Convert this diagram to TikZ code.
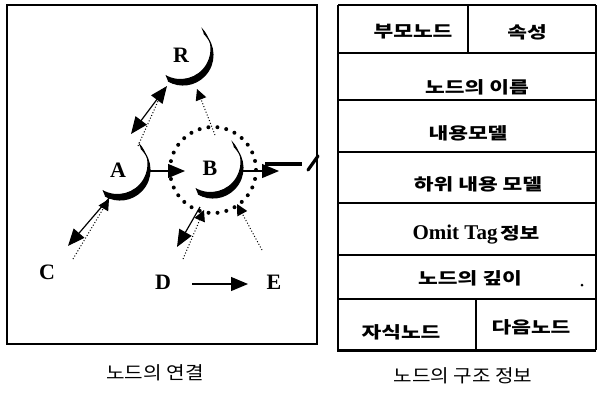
\documentclass[tikz,border=0pt]{standalone}
\usepackage{fontspec}
\usepackage{graphicx}
\setmainfont{Liberation Serif}
\newfontfamily\kr{Noto Sans CJK KR}
\newcommand\kcell[1]{\scalebox{1.3}[1]{\kr\fontsize{16.5}{17}\selectfont\bfseries #1}}
\newcommand\kcap[1]{\scalebox{1.12}[1]{\kr\fontsize{18}{18}\selectfont #1}}
\usetikzlibrary{arrows.meta}
\begin{document}
\begin{tikzpicture}[x=1pt,y=-1pt,
  lbl/.style={font=\fontsize{22}{22}\selectfont\bfseries, inner sep=0pt},
  cell/.style={inner sep=0pt},
  captxt/.style={inner sep=0pt},
  big/.style={-{Triangle[length=17pt,width=14pt]}, line width=1.2pt},
  bigboth/.style={{Triangle[length=17pt,width=14pt]}-{Triangle[length=17pt,width=14pt]}, line width=1.2pt},
  dotline/.style={dotted, line width=1pt},
  dottip/.style={dotted, line width=1pt, -{Triangle[length=11pt,width=11pt]}},
  grid/.style={line width=2.1pt},
  crescent/.pic={
    \fill (-46:30) arc[start angle=-46,end angle=120,radius=30]
      -- (-17.5,19.98) arc[start angle=120,end angle=-46,radius=30] -- cycle;
    \draw[line width=1.1pt] (-46:30) arc[start angle=-46,end angle=120,radius=30];
  }]
\useasboundingbox (0,0) rectangle (597,392);
\fill[white] (0,0) rectangle (597,392);

% ---------- left panel ----------
\draw[line width=2pt] (7,5) rectangle (317,344);

\pic at (183,55) {crescent};
\pic at (120,170) {crescent};
\pic at (213,168) {crescent};

\node[lbl] (R) at (181,55) {R};
\node[lbl] (A) at (118,170) {A};
\node[lbl] (B) at (210,168) {B};
\node[lbl] (C) at (47,272) {C};
\node[lbl] (D) at (163,282) {D};
\node[lbl] (E) at (274,282) {E};

% dotted circle around B
\draw[line width=4pt, line cap=round, dash pattern=on 0pt off 9pt] (213,170) circle[radius=43];

% connection points
\coordinate (Rsw) at (167,86);
\coordinate (Rs) at (197,89);
\coordinate (Rd) at (163,90);
\coordinate (Ane) at (131,134);
\coordinate (Ad) at (138,146);
\coordinate (Ae) at (150,171);
\coordinate (Asw) at (110,197);
\coordinate (Asw2) at (109,199);
\coordinate (Cn) at (68,246);
\coordinate (Cd) at (73,259);
\coordinate (Bw) at (185,171);
\coordinate (Bt) at (215,135);
\coordinate (Be) at (243,171);
\coordinate (Bo) at (279,171);
\coordinate (Bsw) at (200,207);
\coordinate (Bsw2) at (204,210);
\coordinate (Bse) at (237,204);
\coordinate (Dn) at (177,247);
\coordinate (Dd) at (183,259);
\coordinate (Ed) at (262,250);
\coordinate (N1) at (265,164);
\coordinate (N2) at (302,164);
\coordinate (S1) at (308,170);
\coordinate (S2) at (318,156);
\coordinate (DE1) at (192,284);
\coordinate (DE2) at (248,284);

\draw[bigboth] (Rsw) -- (Ane);
\draw[dotline] (Ad) -- (Rd);
\draw[dottip] (Bt) -- (Rs);
\draw[big] (Ae) -- (Bw);
\draw[big] (Be) -- (Bo);
\draw[line width=3.2pt] (N1) -- (N2);
\draw[line width=3.2pt, line cap=round] (S1) -- (S2);
\draw[big] (Asw) -- (Cn);
\draw[dottip] (Cd) -- (Asw2);
\draw[big] (Bsw) -- (Dn);
\draw[dottip] (Dd) -- (Bsw2);
\draw[dottip] (Ed) -- (Bse);
\draw[big] (DE1) -- (DE2);

\node[captxt] (cap1) at (155,373) {\kcap{노드의 연결}};

% ---------- right panel: table ----------
\draw[grid] (338,5) -- (596,5);
\draw[grid] (338,53) -- (596,53);
\draw[grid] (338,100) -- (596,100);
\draw[grid] (338,152) -- (596,152);
\draw[grid] (338,203) -- (596,203);
\draw[grid] (338,255) -- (596,255);
\draw[grid] (338,299) -- (596,299);
\draw[line width=3pt] (337,350) -- (596,350);
\draw[grid] (338,5) -- (338,350);
\draw[line width=1.2pt] (596,5) -- (596,350);
\draw[grid] (468,5) -- (468,53);
\draw[grid] (476,299) -- (476,350);

\node[cell] (t1) at (413,32) {\kcell{부모노드}};
\node[cell] (t2) at (527,32) {\kcell{속성}};
\node[cell] (t3) at (477,87) {\kcell{노드의 이름}};
\node[cell] (t4) at (468,133) {\kcell{내용모델}};
\node[cell] (t5) at (478,184) {\kcell{하위 내용 모델}};
\node[cell] (t6) at (476,235) {{\fontsize{21}{21}\selectfont\bfseries Omit Tag} \kcell{정보}};
\node[cell] (t7) at (470,278) {\kcell{노드의 깊이}};
\node[cell] (t8) at (401,332) {\kcell{자식노드}};
\node[cell] (t9) at (531,327) {\kcell{다음노드}};
\fill (582,285) circle[radius=1.5];

\node[captxt] (cap2) at (463,376) {\kcap{노드의 구조 정보}};
\end{tikzpicture}
\end{document}
